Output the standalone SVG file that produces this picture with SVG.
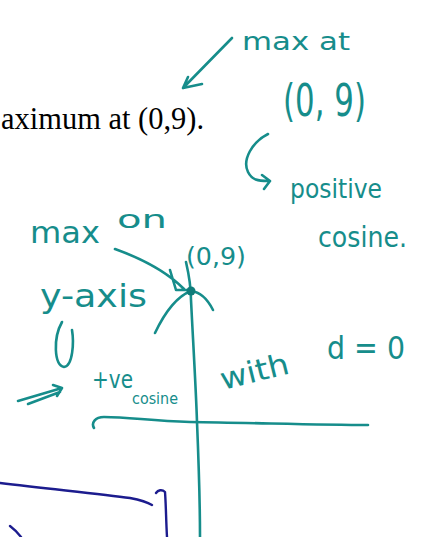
<svg xmlns="http://www.w3.org/2000/svg" width="421" height="537" viewBox="0 0 421 537">
<style>
.ink{fill:none;stroke:#168d8b;stroke-width:2.6;stroke-linecap:round;stroke-linejoin:round}
.navy{fill:none;stroke:#1c1c8e;stroke-width:2.4;stroke-linecap:round;stroke-linejoin:round}
.hw{fill:#168d8b;font-family:"DejaVu Sans","Noto Sans",sans-serif;font-weight:normal}
.print{fill:#000;font-family:"Liberation Serif","Times New Roman",serif;font-size:31px}
</style>
<rect width="421" height="537" fill="#fff"/>
<text class="print" x="1" y="129" textLength="203" lengthAdjust="spacingAndGlyphs">aximum at (0,9).</text>

<g id="labels">
<text class="hw" x="242" y="50" font-size="24" textLength="108" lengthAdjust="spacingAndGlyphs">max at</text>
<text class="hw" x="283" y="116" font-size="44" textLength="83" lengthAdjust="spacingAndGlyphs">(0, 9)</text>
<text class="hw" x="290" y="198" font-size="26" textLength="92" lengthAdjust="spacingAndGlyphs">positive</text>
<text class="hw" x="318" y="247" font-size="28" textLength="89" lengthAdjust="spacingAndGlyphs">cosine.</text>
<text class="hw" x="30" y="243" font-size="30" textLength="70" lengthAdjust="spacingAndGlyphs">max</text>
<text class="hw" x="117" y="228" font-size="24" textLength="50" lengthAdjust="spacingAndGlyphs">on</text>
<text class="hw" x="186" y="265" font-size="24" textLength="60" lengthAdjust="spacingAndGlyphs">(0,9)</text>
<text class="hw" x="40" y="307" font-size="32" textLength="107" lengthAdjust="spacingAndGlyphs">y-axis</text>
<text class="hw" x="92" y="388" font-size="24" textLength="41" lengthAdjust="spacingAndGlyphs">+ve</text>
<text class="hw" x="132" y="404" font-size="16" textLength="46" lengthAdjust="spacingAndGlyphs">cosine</text>
<text class="hw" x="223" y="390" font-size="30" textLength="70" lengthAdjust="spacingAndGlyphs" transform="rotate(-14 223 390)">with</text>
<text class="hw" x="327" y="359" font-size="32" textLength="78" lengthAdjust="spacingAndGlyphs">d = 0</text>
</g>

<g id="connectors">
<path class="ink" d="M232 38 L183 88 M188 77 L183 88 L202 84"/>
<path class="ink" d="M268 134 C252 142 242 160 248 172 C252 180 258 181 268 181 M262 175 L270 181 L264 189"/>
<path class="ink" d="M115 249 C140 258 165 270 184 289 M170 270 L176 290 L190 290"/>
<path class="ink" d="M18 401 L62 388 M28 404 L60 392 M53 385 L62 388 L57 396"/>
<path class="ink" d="M62 322 C53 338 54 365 64 367 C73 366 74 342 72 330"/>
</g>

<g id="graph">
<path class="ink" d="M186 262 C189 275 191 285 191 300 C193 340 196 390 197 422 C199 470 200 510 200 537"/>
<path class="ink" d="M94 428 C91 423 95 417 104 417 C130 417 150 421 190 422 C260 423 320 425 368 425"/>
<path class="ink" d="M155 333 C165 312 178 296 191 291 C200 292 208 300 213 310"/>
<circle cx="191" cy="291" r="4.5" fill="#0f7c7a"/>
</g>

<g id="bottom">
<path class="navy" d="M0 483 C50 489 100 494 130 498 C140 500 147 502 152 505"/>
<path class="navy" d="M156 493 C158 490 162 489 165 492 C166 505 166 520 167 537"/>
<path class="navy" d="M10 526 C14 529 18 533 21 537"/>
</g>
</svg>
